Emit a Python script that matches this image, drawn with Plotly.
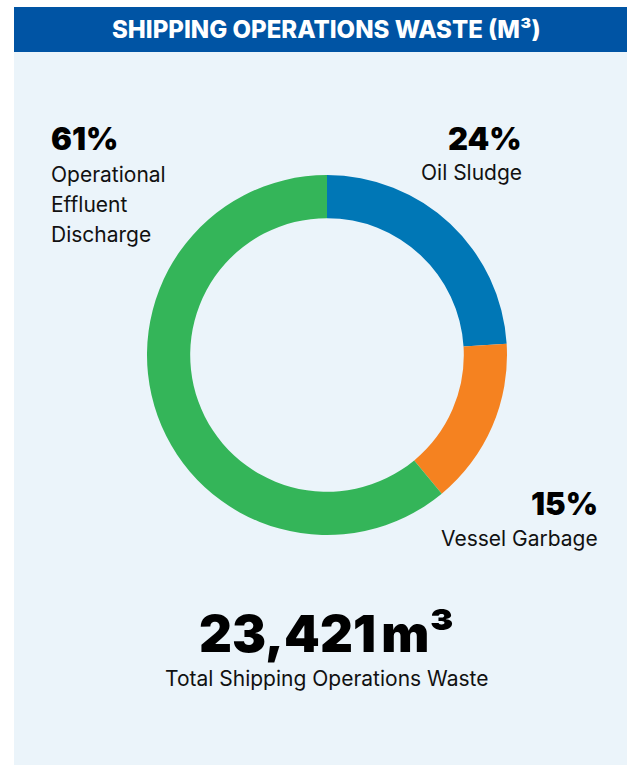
import plotly.graph_objects as go

W, H = 627, 766

categories = ["Oil Sludge", "Vessel Garbage", "Operational Effluent Discharge"]
label_lines = [["Oil Sludge"], ["Vessel Garbage"], ["Operational", "Effluent", "Discharge"]]
shares = [24, 15, 61]
colors = ["#0077B6", "#F58220", "#34B559"]
total_m3 = 23421
title = "SHIPPING OPERATIONS WASTE (M³)"
total_caption = "Total Shipping Operations Waste"

def py(v):
    return 1 - v / H

def px(v):
    return v / W

fig = go.Figure()
fig.add_trace(go.Pie(
    labels=categories, values=shares, hole=0.76, sort=False, direction="clockwise",
    rotation=0, marker=dict(colors=colors, line=dict(width=0)),
    textinfo="none", hoverinfo="label+percent", showlegend=False,
    domain=dict(x=[px(147), px(507)], y=[py(535), py(175)]),
))

shapes = [
    dict(type="rect", xref="paper", yref="paper", x0=px(14), x1=1, y0=py(765), y1=py(52),
         fillcolor="#EBF4FA", line=dict(width=0), layer="below"),
    dict(type="rect", xref="paper", yref="paper", x0=px(14), x1=1, y0=py(52), y1=py(7),
         fillcolor="#0054A4", line=dict(width=0), layer="below"),
]

ann = []
ann.append(dict(text=title, x=px(327), y=py(30), xanchor="center", yanchor="middle",
                font=dict(family="Inter", size=24, color="white", weight=800)))

# label placement: (x px, anchor, pct center y, first line center y)
placements = [(524, "right", 138, 173), (600, "right", 504, 538), (49, "left", 138, 174)]
pct_font = dict(family="Inter", size=31, color="black", weight=900)
lab_font = dict(family="Inter", size=21, color="#111111")
for (x, anchor, ypct, ylab), s, lines in zip(placements, shares, label_lines):
    ann.append(dict(text=f"{s}%", x=px(x), y=py(ypct), xanchor=anchor, yanchor="middle", font=pct_font))
    for i, ln in enumerate(lines):
        ann.append(dict(text=ln, x=px(x), y=py(ylab + 30.5 * i), xanchor=anchor, yanchor="middle", font=lab_font))

ann.append(dict(text=f"{total_m3:,}<span style='font-size:26px'>\u00a0</span>m³", x=px(327), y=py(633),
                xanchor="center", yanchor="middle",
                font=dict(family="Inter", size=51, color="black", weight=900)))
ann.append(dict(text=total_caption, x=px(327), y=py(678), xanchor="center", yanchor="middle",
                font=dict(family="Inter", size=21, color="#111111")))
for a in ann:
    a.update(xref="paper", yref="paper", showarrow=False)

fig.update_layout(width=W, height=H, margin=dict(l=0, r=0, t=0, b=0),
                  paper_bgcolor="white", plot_bgcolor="white",
                  shapes=shapes, annotations=ann)
fig.write_html("out.html", config={"displayModeBar": False})
